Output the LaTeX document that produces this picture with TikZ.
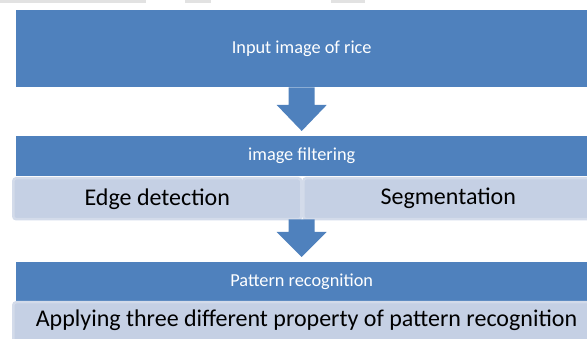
\documentclass[tikz,border=0pt]{standalone}
\usepackage{fontspec}
\setmainfont{Carlito}
\usetikzlibrary{calc}
\definecolor{boxblue}{RGB}{79,129,189}
\definecolor{paleblue}{RGB}{197,208,228}
\definecolor{paleedge}{RGB}{211,219,234}
\definecolor{stripgray}{RGB}{226,226,226}
\begin{document}
\begin{tikzpicture}[x=1pt,y=-1pt,
  darkbox/.style={fill=boxblue, draw=none, text=white, inner sep=0pt,
    anchor=north west, font=\fontsize{18.3}{22}\selectfont},
  palebox/.style={fill=paleblue, draw=paleedge, line width=2.5pt,
    rounded corners=3pt, text=black, inner sep=0pt,
    anchor=north west, font=\fontsize{24}{28}\selectfont},
  bigtext/.style={text=black, inner sep=0pt, font=\fontsize{24}{28}\selectfont},
  blockarrow/.style={fill=boxblue, draw=none}]
\useasboundingbox (0,0) rectangle (587,339);

% faint strips along the top edge
\fill[stripgray] (0,0) rectangle (146,3);
\fill[stripgray] (185,0) rectangle (211,3);
\fill[stripgray] (331,0) rectangle (365,3);

% stages
\node[darkbox, minimum width=571pt, minimum height=77pt] (input) at (16,10) {Input image of rice};
\node[darkbox, minimum width=571pt, minimum height=40pt] (filter) at (16,136) {image filtering};
\node[palebox, minimum width=288pt, minimum height=41pt] (edge) at (12,177) {Edge detection};
\node[palebox, minimum width=290pt, minimum height=41pt] (seg) at (302,177) {Segmentation};
\node[darkbox, minimum width=571pt, minimum height=39pt] (pattern) at (16,262) {Pattern recognition};
\node[palebox, minimum width=580pt, minimum height=44pt] (apply) at (12,301) {};
\node[bigtext] (applytext) at (306.5,320)
  {Applying three different property of pattern recognition};

% block arrows between stages
\fill[blockarrow] let \p1=(input.south), \p2=(filter.north) in
  (\x1-13pt,\y1) -- (\x1+13pt,\y1) -- (\x1+13pt,\y2+31pt) -- (\x1+25pt,\y2+31pt)
  -- (\x1,\y2+5pt) -- (\x1-25pt,\y2+31pt) -- (\x1-13pt,\y2+31pt) -- cycle;
\fill[blockarrow] let \p1=(filter.south |- edge.south), \p2=(pattern.north) in
  (\x1-13pt,\y1+1pt) -- (\x1+13pt,\y1+1pt) -- (\x1+13pt,\y2+30pt) -- (\x1+25pt,\y2+30pt)
  -- (\x1,\y2+5pt) -- (\x1-25pt,\y2+30pt) -- (\x1-13pt,\y2+30pt) -- cycle;
\end{tikzpicture}
\end{document}
